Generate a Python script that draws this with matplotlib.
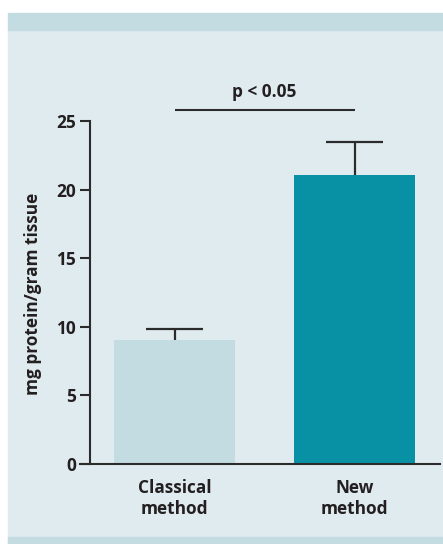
import matplotlib
matplotlib.use("Agg")
import matplotlib.pyplot as plt
from matplotlib.patches import Rectangle

# data
methods = ["Classical\nmethod", "New\nmethod"]
means = [9.05, 21.05]
errors = [0.8, 2.45]
bar_colors = ["#c3dce1", "#0891a5"]
sig_label = "p < 0.05"
sig_level = 25.8

plt.rcParams['font.family'] = ['Open Sans', 'DejaVu Sans']
ink = "#231f20"
fs = 12.4

fig = plt.figure(figsize=(4.43, 5.44), dpi=100, facecolor="white")
W, H = 443.0, 544.0

# panel background + bands
fig.patches.append(Rectangle((8 / W, 0), 1, (544 - 30) / H, transform=fig.transFigure,
                             color="#e0ebf0", zorder=-10))
fig.patches.append(Rectangle((8 / W, (544 - 30) / H), 1, 17 / H, transform=fig.transFigure,
                             color="#c3dce1", zorder=-10))
fig.patches.append(Rectangle((8 / W, 0), 1, 7 / H, transform=fig.transFigure,
                             color="#c3dce1", zorder=-10))

ax = fig.add_axes([80 / W, 80 / H, 360 / W, 434 / H])
ax.set_facecolor("none")

x = list(range(len(methods)))
ax.bar(x, means, width=0.67, color=bar_colors, zorder=2)

# upward error bars only
tops = [m + e for m, e in zip(means, errors)]
ax.vlines(x, means, tops, color="#2b2b2b", lw=1.6, zorder=3)
ax.hlines(tops, [i - 0.16 for i in x], [i + 0.16 for i in x], color="#2b2b2b", lw=1.6, zorder=3)

# significance bar
ax.hlines(sig_level, x[0], x[1], color="#2b2b2b", lw=1.5)
ax.text((x[0] + x[1]) / 2, sig_level + 1.3, sig_label, ha="center", va="center",
        fontsize=fs, fontweight="bold", color=ink)

ax.set_xlim(-0.525, 1.475)
ax.set_ylim(0, 31.63)

for s in ["top", "right"]:
    ax.spines[s].set_visible(False)
ax.spines["left"].set_position(("data", -0.469))
ax.spines["left"].set_bounds(0, 25)
for s in ["left", "bottom"]:
    ax.spines[s].set_linewidth(1.5)
    ax.spines[s].set_color("#2b2b2b")

ax.set_yticks([0, 5, 10, 15, 20, 25])
ax.tick_params(axis="y", length=7, width=1.5, color="#2b2b2b", pad=3,
               labelsize=fs, labelcolor=ink)
ax.set_xticks(x)
ax.set_xticklabels(methods, fontweight="bold", linespacing=1.2)
ax.tick_params(axis="x", length=0, pad=11, labelsize=fs, labelcolor=ink)
for t in ax.get_yticklabels():
    t.set_fontweight("bold")

ax.set_ylabel("mg protein/gram tissue", fontsize=fs, fontweight="bold", color=ink)
ax.yaxis.set_label_coords(-0.106, 0.392)

fig.savefig("out.png", dpi=100, facecolor="white")
